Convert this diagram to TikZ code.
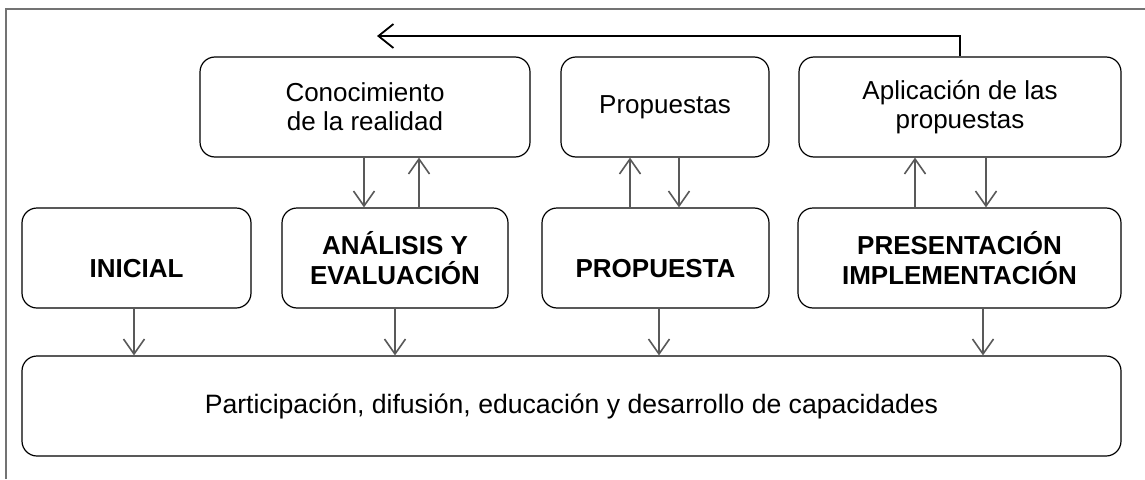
\documentclass[tikz,border=0pt]{standalone}
\usepackage{fontspec}
\setmainfont{Liberation Sans}
\usetikzlibrary{arrows.meta}
\tikzset{
  box/.style={draw=black, line width=1.2pt, rounded corners=15pt, inner sep=0pt,
    minimum height=100pt, align=center, font=\fontsize{26}{29}\selectfont},
  bbox/.style={box, font=\fontsize{26}{30}\selectfont\bfseries},
  lowtext/.style={text height=38pt, text depth=0pt},
  arr/.style={draw=black!65, line width=1.8pt, -{Straight Barb[length=15pt,width=21pt,line width=1.6pt]}},
  fb/.style={draw=black, line width=2.2pt, -{Straight Barb[length=15pt,width=24pt,line width=1.8pt]}},
  frame/.style={draw=black!55, line width=2pt}
}
\begin{document}
\begin{tikzpicture}[x=1pt,y=-1pt]
\useasboundingbox (0,0) rectangle (1145,479);
\draw[frame] (6,479) -- (6,9) -- (1145,9);
% top row
\node[box, minimum width=330pt] (con) at (365,107) {Conocimiento\\de la realidad};
\node[box, minimum width=208pt] (prop) at (665,107) {Propuestas};
\node[box, minimum width=322pt] (apl) at (960,107) {Aplicación de las\\propuestas};
% middle row
\node[bbox, lowtext, minimum width=229pt] (ini) at (136.5,258) {INICIAL};
\node[bbox, minimum width=226pt] (ana) at (395,258) {ANÁLISIS Y\\EVALUACIÓN};
\node[bbox, lowtext, minimum width=227pt] (pro) at (655.5,258) {PROPUESTA};
\node[bbox, minimum width=323pt] (pre) at (959.5,258) {PRESENTACIÓN\\IMPLEMENTACIÓN};
% bottom
\node[box, minimum width=1099pt, font=\fontsize{26.6}{29}\selectfont] (bot) at (571.5,406) {Participación, difusión, educación y desarrollo de capacidades};
% arrows between top and middle rows
\draw[arr] (con.south -| 364,0) -- (ana.north -| 364,0);
\draw[arr] (ana.north -| 419,0) -- (con.south -| 419,0);
\draw[arr] (pro.north -| 630,0) -- (prop.south -| 630,0);
\draw[arr] (prop.south -| 679,0) -- (pro.north -| 679,0);
\draw[arr] (pre.north -| 915,0) -- (apl.south -| 915,0);
\draw[arr] (apl.south -| 986,0) -- (pre.north -| 986,0);
% arrows to bottom
\draw[arr] (ini.south -| 134,0) -- (bot.north -| 134,0);
\draw[arr] (ana.south -| 395,0) -- (bot.north -| 395,0);
\draw[arr] (pro.south -| 659,0) -- (bot.north -| 659,0);
\draw[arr] (pre.south -| 983,0) -- (bot.north -| 983,0);
% feedback
\coordinate (fbend) at (377,36);
\draw[fb] (apl.north) |- (fbend);
\end{tikzpicture}
\end{document}
